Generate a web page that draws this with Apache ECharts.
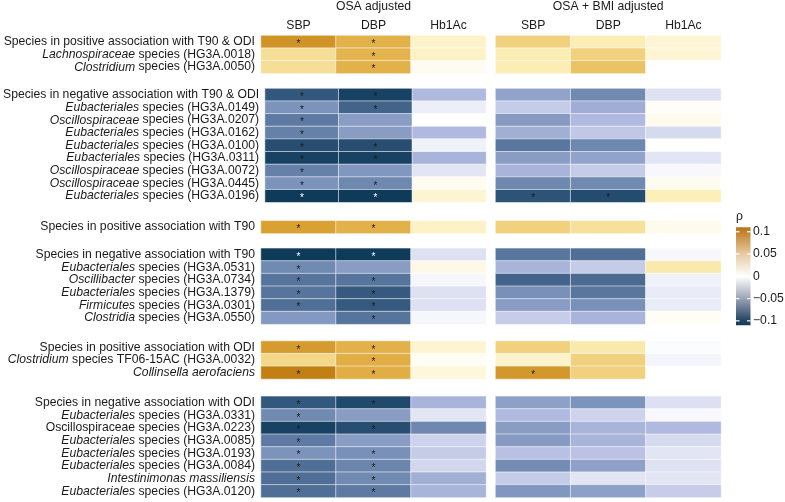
<!DOCTYPE html>
<html>
<head>
<meta charset="utf-8">
<script src="https://cdn.jsdelivr.net/npm/echarts@6/dist/echarts.min.js"></script>
<style>
  html, body { margin: 0; padding: 0; background: #fff; }
  #chart { width: 785px; height: 502px; }
</style>
</head>
<body>
<div id="chart"></div>
<script>
// row labels, the part between underscores is set in italics
const rowLabels = [
  'Species in positive association with T90 & ODI',
  '_Lachnospiraceae_ species (HG3A.0018)',
  '_Clostridium_ species (HG3A.0050)',
  'Species in negative association with T90 & ODI',
  '_Eubacteriales_ species (HG3A.0149)',
  '_Oscillospiraceae_ species (HG3A.0207)',
  '_Eubacteriales_ species (HG3A.0162)',
  '_Eubacteriales_ species (HG3A.0100)',
  '_Eubacteriales_ species (HG3A.0311)',
  '_Oscillospiraceae_ species (HG3A.0072)',
  '_Oscillospiraceae_ species (HG3A.0445)',
  '_Eubacteriales_ species (HG3A.0196)',
  'Species in positive association with T90',
  'Species in negative association with T90',
  '_Eubacteriales_ species (HG3A.0531)',
  '_Oscillibacter_ species (HG3A.0734)',
  '_Eubacteriales_ species (HG3A.1379)',
  '_Firmicutes_ species (HG3A.0301)',
  '_Clostridia_ species (HG3A.0550)',
  'Species in positive association with ODI',
  '_Clostridium_ species TF06-15AC (HG3A.0032)',
  '_Collinsella aerofaciens_',
  'Species in negative association with ODI',
  '_Eubacteriales_ species (HG3A.0331)',
  'Oscillospiraceae species (HG3A.0223)',
  '_Eubacteriales_ species (HG3A.0085)',
  '_Eubacteriales_ species (HG3A.0193)',
  '_Eubacteriales_ species (HG3A.0084)',
  '_Intestinimonas massiliensis_',
  '_Eubacteriales_ species (HG3A.0120)'
]
const groupSizes = [3, 9, 1, 6, 3, 8]
const measures = ['SBP', 'DBP', 'Hb1Ac']
const models = ['OSA adjusted', 'OSA + BMI adjusted']

// spearman rho, one value per row
const osaSBP = [0.088, 0.035, 0.035, -0.088, -0.062, -0.073, -0.07, -0.092, -0.097, -0.07, -0.062, -0.1, 0.08, -0.105, -0.066, -0.076, -0.076, -0.078, -0.059, 0.083, 0.04, 0.1, -0.088, -0.066, -0.097, -0.073, -0.062, -0.078, -0.078, -0.078]
const osaDBP = [0.068, 0.065, 0.068, -0.097, -0.083, -0.057, -0.057, -0.092, -0.097, -0.06, -0.067, -0.1, 0.068, -0.105, -0.057, -0.076, -0.087, -0.087, -0.076, 0.068, 0.07, 0.07, -0.094, -0.057, -0.092, -0.057, -0.063, -0.068, -0.066, -0.073]
const osaHb = [0.015, 0.016, 0.004, -0.04, -0.01, 0, -0.04, -0.008, -0.043, -0.016, 0.004, 0.013, 0.016, -0.018, 0.007, -0.005, -0.018, -0.018, -0.005, 0.013, 0.003, 0.01, -0.043, -0.016, -0.067, -0.026, -0.03, -0.024, -0.046, -0.043]
const bmiSBP = [0.045, 0.022, 0.022, -0.053, -0.03, -0.058, -0.046, -0.075, -0.057, -0.043, -0.067, -0.09, 0.045, -0.075, -0.043, -0.083, -0.063, -0.057, -0.029, 0.045, 0.015, 0.085, -0.055, -0.04, -0.057, -0.058, -0.036, -0.065, -0.03, -0.06]
const bmiDBP = [0.022, 0.045, 0.055, -0.066, -0.047, -0.04, -0.032, -0.067, -0.053, -0.03, -0.066, -0.093, 0.033, -0.078, -0.03, -0.08, -0.075, -0.063, -0.043, 0.025, 0.045, 0.045, -0.062, -0.026, -0.043, -0.043, -0.035, -0.054, -0.016, -0.055]
const bmiHb = [0.012, 0.012, 0, -0.018, 0.002, 0.005, -0.022, 0, -0.016, -0.004, 0.004, 0.02, 0.005, -0.004, 0.025, -0.008, -0.012, -0.012, 0.003, -0.002, -0.006, 0, -0.019, -0.004, -0.04, -0.022, -0.016, -0.018, -0.016, -0.029]

// significance (1 = star)
const sigOsaSBP = [1, 0, 0, 1, 1, 1, 1, 1, 1, 1, 1, 1, 1, 1, 1, 1, 1, 1, 0, 1, 0, 1, 1, 1, 1, 1, 1, 1, 1, 1]
const sigOsaDBP = [1, 1, 1, 1, 1, 0, 0, 1, 1, 0, 1, 1, 1, 1, 0, 1, 1, 1, 1, 1, 1, 1, 1, 0, 1, 0, 1, 1, 1, 1]
const sigOsaHb = new Array(30).fill(0)
const sigBmiSBP = [0, 0, 0, 0, 0, 0, 0, 0, 0, 0, 0, 1, 0, 0, 0, 0, 0, 0, 0, 0, 0, 1, 0, 0, 0, 0, 0, 0, 0, 0]
const sigBmiDBP = [0, 0, 0, 0, 0, 0, 0, 0, 0, 0, 0, 1, 0, 0, 0, 0, 0, 0, 0, 0, 0, 0, 0, 0, 0, 0, 0, 0, 0, 0]
const sigBmiHb = new Array(30).fill(0)

const legendTicks = [0.1, 0.05, 0, -0.05, -0.1]

const columns = [
  [osaSBP, osaDBP, osaHb],
  [bmiSBP, bmiDBP, bmiHb]
]
const sigColumns = [
  [sigOsaSBP, sigOsaDBP, sigOsaHb],
  [sigBmiSBP, sigBmiDBP, sigBmiHb]
]

const FONT = '"Liberation Sans", Arial, Helvetica, sans-serif'
const TEXT = '#1a1a1a'

// layout of the facets
const groupTops = [35.5, 88.5, 220.8, 248.3, 341, 396.3]
const rowH = 12.65
const blockLeft = [261, 495.5]
const blockWidth = [225, 225.5]

const chart = echarts.init(document.getElementById('chart'))

const grids = []
const xAxes = []
const yAxes = []
const series = []

let start = 0
groupSizes.forEach((n, g) => {
  const labels = rowLabels.slice(start, start + n)
  for (let s = 0; s < 2; s++) {
    const k = grids.length
    grids.push({
      left: blockLeft[s],
      top: groupTops[g],
      width: blockWidth[s],
      height: n * rowH
    })
    xAxes.push({
      gridIndex: k,
      type: 'category',
      data: measures,
      position: 'top',
      axisLine: { show: false },
      axisTick: { show: false },
      splitLine: { show: false },
      axisLabel: {
        show: g === 0,
        margin: 4,
        fontSize: 12.2,
        fontFamily: FONT,
        color: TEXT
      }
    })
    yAxes.push({
      gridIndex: k,
      type: 'category',
      data: labels,
      inverse: true,
      axisLine: { show: false },
      axisTick: { show: false },
      splitLine: { show: false },
      axisLabel: {
        show: s === 0,
        interval: 0,
        margin: 6,
        fontSize: 12.2,
        fontFamily: FONT,
        color: TEXT,
        formatter: (v) => v.replace(/_(.+?)_/g, '{i|$1}'),
        rich: {
          i: { fontStyle: 'italic', fontSize: 12.2, fontFamily: FONT, color: TEXT }
        }
      }
    })
    const data = []
    for (let c = 0; c < 3; c++) {
      for (let r = 0; r < n; r++) {
        const v = columns[s][c][start + r]
        const sig = sigColumns[s][c][start + r]
        data.push({
          value: [c, r, v, sig],
          label: { color: v < -0.099 ? '#ffffff' : '#1a1a1a' }
        })
      }
    }
    series.push({
      type: 'heatmap',
      xAxisIndex: k,
      yAxisIndex: k,
      data: data,
      itemStyle: { borderColor: 'rgba(255,255,255,0.55)', borderWidth: 1 },
      label: {
        show: true,
        fontSize: 10,
        fontFamily: FONT,
        offset: [0, 2.5],
        formatter: (p) => (p.value[3] ? '*' : '')
      },
      emphasis: { disabled: true }
    })
  }
  start += n
})

// colour bar
const barTop = 227.3
const barBottom = 325.3
const barMax = 0.11
const barX = 736
const barW = 14.5
const yOf = (v) => barTop + ((barMax - v) / (2 * barMax)) * (barBottom - barTop)
const offOf = (v) => (barMax - v) / (2 * barMax)

const legendEls = [
  {
    type: 'text',
    left: 736,
    top: 211,
    style: { text: 'ρ', font: '12.2px ' + FONT, fill: TEXT }
  },
  {
    type: 'rect',
    shape: { x: barX, y: barTop, width: barW, height: barBottom - barTop },
    style: {
      fill: new echarts.graphic.LinearGradient(0, 0, 0, 1, [
        { offset: 0, color: '#b7741c' },
        { offset: offOf(0.1), color: '#bf822b' },
        { offset: offOf(0.05), color: '#e6cba2' },
        { offset: offOf(0), color: '#ffffff' },
        { offset: offOf(-0.05), color: '#9ba3b6' },
        { offset: offOf(-0.1), color: '#21435f' },
        { offset: 1, color: '#173a57' }
      ])
    }
  }
]
legendTicks.forEach((t) => {
  const y = yOf(t)
  legendEls.push(
    {
      type: 'line',
      shape: { x1: barX, y1: y, x2: barX + 3.5, y2: y },
      style: { stroke: '#ffffff', lineWidth: 1.2 }
    },
    {
      type: 'line',
      shape: { x1: barX + barW - 3.5, y1: y, x2: barX + barW, y2: y },
      style: { stroke: '#ffffff', lineWidth: 1.2 }
    },
    {
      type: 'text',
      x: 753,
      y: y,
      style: {
        text: t === 0 ? '0' : String(t).replace('-', '\u2212'),
        font: '12.2px ' + FONT,
        fill: TEXT,
        verticalAlign: 'middle',
        align: 'left'
      }
    }
  )
})

const option = {
  animation: false,
  title: models.map((m, s) => ({
    text: m,
    left: blockLeft[s] + blockWidth[s] / 2,
    top: 1,
    padding: 0,
    textAlign: 'center',
    textStyle: { fontSize: 12.2, fontWeight: 'normal', fontFamily: FONT, color: TEXT }
  })),
  grid: grids,
  xAxis: xAxes,
  yAxis: yAxes,
  visualMap: {
    type: 'continuous',
    show: false,
    dimension: 2,
    min: -0.1,
    max: 0.1,
    seriesIndex: series.map((_, i) => i),
    inRange: {
      color: [
        '#0f3b5b', '#4b6b93', '#8197bf', '#b0b9df', '#dadef1', '#ffffff',
        '#fcefb8', '#f4d88a', '#e8bc58', '#d9a032', '#c27f14'
      ]
    }
  },
  graphic: { elements: legendEls },
  series: series
}

chart.setOption(option)
</script>
</body>
</html>
